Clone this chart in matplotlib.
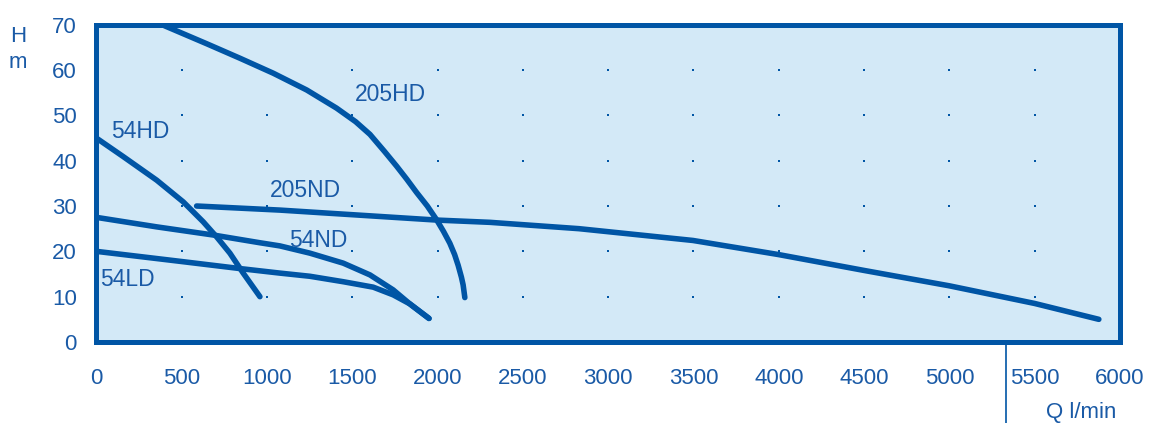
import numpy as np
import matplotlib
matplotlib.use("Agg")
import matplotlib.pyplot as plt

plt.rcParams['font.family'] = ['Liberation Sans', 'DejaVu Sans']

# ---- data ----
q_205hd = [330, 404, 647, 842, 1037, 1233, 1408, 1520, 1604, 1690, 1760, 1820, 1877,
           1940, 1994, 2035, 2072, 2100, 2121, 2140, 2150, 2160]
h_205hd = [71.0, 69.7, 65.8, 62.6, 59.3, 55.6, 51.6, 48.6, 45.8, 42.0, 38.8, 35.9, 33.0,
           30.0, 27.0, 24.4, 21.8, 19.3, 16.9, 14.3, 12.6, 9.8]

q_54hd = [0, 158, 354, 510, 627, 705, 783, 861, 959]
h_54hd = [45.0, 40.9, 35.7, 30.9, 26.5, 23.2, 19.6, 15.2, 10.0]

q_54nd = [0, 354, 686, 958, 1076, 1252, 1447, 1604, 1740, 1838, 1950]
h_54nd = [27.5, 25.4, 23.6, 21.9, 21.2, 19.6, 17.4, 14.8, 11.5, 8.4, 5.2]

q_54ld = [0, 490, 842, 1076, 1252, 1447, 1623, 1740, 1838, 1950]
h_54ld = [20.0, 17.8, 16.2, 15.2, 14.5, 13.3, 12.1, 10.4, 8.4, 5.2]

q_205nd = [588, 1076, 1994, 2307, 2829, 3497, 3997, 4498, 4999, 5500, 5876]
h_205nd = [30.0, 29.1, 26.9, 26.4, 25.0, 22.4, 19.3, 15.8, 12.4, 8.5, 5.0]

x_ticks = list(range(0, 6001, 500))
y_ticks = list(range(0, 71, 10))

labels = ["205HD", "54HD", "205ND", "54ND", "54LD"]
label_q = [1516, 84, 1018, 1131, 22]
label_h = [54.5, 46.4, 33.5, 22.5, 13.7]

# ---- style ----
LINE = '#0055a5'
TEXT = '#1a5aa6'
BG = '#d3e9f7'

fig = plt.figure(figsize=(11.6, 4.23), dpi=100)
ax = fig.add_axes([96.3/1160, 81/423, (1120-96.3)/1160, (342-24.7)/423])
ax.set_facecolor(BG)
ax.set_xlim(0, 6000)
ax.set_ylim(0, 70)

for q, h in [(q_205hd, h_205hd), (q_54hd, h_54hd), (q_54nd, h_54nd),
             (q_54ld, h_54ld), (q_205nd, h_205nd)]:
    ax.plot(q, h, color=LINE, lw=4.0, solid_capstyle='round',
            solid_joinstyle='round', zorder=3)

# grid dots at interior tick intersections
gx, gy = np.meshgrid(x_ticks[1:-1], y_ticks[1:-1])
ax.scatter(gx.ravel(), gy.ravel(), s=2.5, marker='s', color=LINE, lw=0, zorder=2)

for t, q, h in zip(labels, label_q, label_h):
    ax.text(q, h, t, color=TEXT, fontsize=16.5, ha='left', va='center', zorder=4)

for s in ax.spines.values():
    s.set_color(LINE)
    s.set_linewidth(3.6)

ax.set_xticks(x_ticks)
ax.set_yticks(y_ticks)
ax.tick_params(axis='x', length=0, pad=19, labelsize=16, labelcolor=TEXT)
ax.tick_params(axis='y', length=0, pad=14, labelsize=16, labelcolor=TEXT)

fig.text(18/1160, 1 - 36/423, 'H', color=TEXT, fontsize=16, ha='center', va='center')
fig.text(18/1160, 1 - 62/423, 'm', color=TEXT, fontsize=16, ha='center', va='center')
fig.text(1046/1160, 1 - 412/423, 'Q l/min', color=TEXT, fontsize=16, ha='left', va='center')

# vertical divider below the plot
fig.add_artist(plt.Line2D([1005.7/1160, 1005.7/1160], [0, 81/423],
                          color=LINE, lw=1.2, transform=fig.transFigure))

fig.savefig('out.png', dpi=100, facecolor='white')
